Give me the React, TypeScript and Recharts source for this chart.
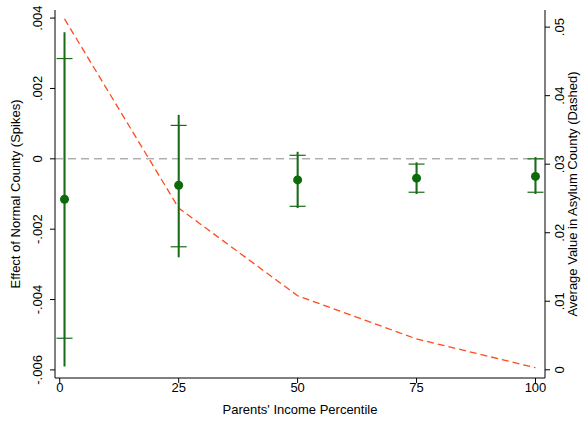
import { ComposedChart, Scatter, Line, XAxis, YAxis, ErrorBar, ReferenceLine } from 'recharts';

const percentiles = [1, 25, 50, 75, 100];
const effect = [-0.00115, -0.00075, -0.0006, -0.00055, -0.0005];
const outerHigh = [0.0036, 0.00125, 0.0002, -0.0001, 0.00005];
const outerLow = [-0.0059, -0.0028, -0.0014, -0.001, -0.001];
const innerHigh = [0.00285, 0.00095, 0.0001, -0.00015, 0.0];
const innerLow = [-0.0051, -0.0025, -0.00135, -0.00095, -0.00095];
const asylumValue = [0.0512, 0.0236, 0.0108, 0.0045, 0.0003];

const leftTicks = [-0.006, -0.004, -0.002, 0, 0.002, 0.004];
const rightTicks = [0, 0.01, 0.02, 0.03, 0.04, 0.05];
const xTicks = [0, 25, 50, 75, 100];

const data = percentiles.map((p, i) => ({
  p,
  effect: effect[i],
  asylum: asylumValue[i],
  outer: [effect[i] - outerLow[i], outerHigh[i] - effect[i]],
  inner: [effect[i] - innerLow[i], innerHigh[i] - effect[i]],
}));

const fmt = (v: number) => {
  if (v === 0) return '0';
  const s = String(Number(v.toFixed(3)));
  return s.replace('0.', '.');
};

const FONT = 'Liberation Sans, Arial';

const VertTick = ({ x, y, payload, dx }: any) => (
  <text
    x={x + dx}
    y={y}
    transform={`rotate(-90 ${x + dx} ${y})`}
    textAnchor="middle"
    fontSize={13}
    fill="#000"
    fontFamily={FONT}
  >
    {fmt(payload.value)}
  </text>
);

const SideLabel = ({ viewBox, text, px }: any) => {
  const cy = viewBox.y + viewBox.height / 2;
  return (
    <text x={px} y={cy} transform={`rotate(-90 ${px} ${cy})`} textAnchor="middle" fontSize={13} fill="#000" fontFamily={FONT}>
      {text}
    </text>
  );
};

export default function App() {
  return (
    <div style={{ position: 'absolute', left: 0, top: 0, background: '#fff' }}>
      <ComposedChart
        width={582}
        height={424}
        data={data}
        margin={{ top: 10, right: 12, left: 20, bottom: 16 }}
        style={{ fontFamily: FONT }}
      >
        <XAxis
          dataKey="p"
          type="number"
          domain={[-1, 102]}
          ticks={xTicks}
          height={30}
          stroke="#000"
          tick={{ fill: '#000', fontSize: 13, dy: -2 }}
          tickSize={5}
          label={{ value: "Parents' Income Percentile", position: 'insideBottom', offset: -6, fill: '#000', fontSize: 13 }}
        />
        <YAxis
          yAxisId="left"
          type="number"
          domain={[-0.00623, 0.00423]}
          ticks={leftTicks}
          width={35}
          stroke="#000"
          tickSize={5}
          tick={<VertTick dx={-6} />}
          label={<SideLabel text="Effect of Normal County (Spikes)" px={20} />}
        />
        <YAxis
          yAxisId="right"
          orientation="right"
          type="number"
          domain={[-0.0012, 0.0525]}
          ticks={rightTicks}
          width={25}
          stroke="#000"
          tickSize={5}
          tick={<VertTick dx={12} />}
          label={<SideLabel text="Average Value in Asylum County (Dashed)" px={577} />}
        />
        <ReferenceLine yAxisId="left" y={0} stroke="#888" strokeDasharray="8 5" />
        <Line
          yAxisId="right"
          dataKey="asylum"
          stroke="#ff4a1a"
          strokeWidth={1.3}
          strokeDasharray="7 4"
          dot={false}
          isAnimationActive={false}
        />
        <Scatter yAxisId="left" dataKey="effect" fill="none" isAnimationActive={false} shape={() => <g />}>
          <ErrorBar dataKey="outer" width={0} stroke="#1a6b1a" strokeWidth={2} direction="y" isAnimationActive={false} />
        </Scatter>
        <Scatter yAxisId="left" dataKey="effect" fill="#0b6b0b" isAnimationActive={false}
          shape={(props: any) => <circle cx={props.cx} cy={props.cy} r={4.5} fill="#0b6b0b" />}>
          <ErrorBar dataKey="inner" width={8} stroke="#1a6b1a" strokeWidth={1.2} direction="y" isAnimationActive={false} />
        </Scatter>
      </ComposedChart>
    </div>
  );
}
